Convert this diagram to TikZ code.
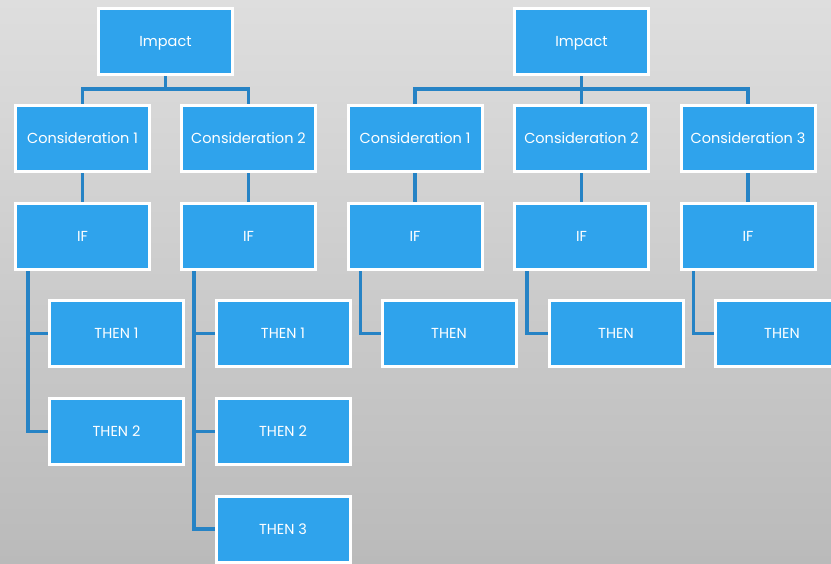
\documentclass[tikz,border=0pt]{standalone}
\usepackage{fontspec}
\setmainfont{Poppins}
\definecolor{boxblue}{RGB}{47,163,236}
\definecolor{linkblue}{RGB}{38,131,197}
\definecolor{bgtop}{RGB}{222,222,222}
\definecolor{bgbottom}{RGB}{186,186,186}
\tikzset{
    box/.style={
        draw=white,
        line width=3pt,
        fill=boxblue,
        text=white,
        minimum width=134pt,
        minimum height=66pt,
        inner sep=0pt,
        text height=10pt,
        text depth=0pt,
        font=\fontsize{14.5}{17}\selectfont,
    },
    link/.style={
        draw=linkblue,
        line width=3.5pt,
    },
}
\begin{document}
\begin{tikzpicture}[x=1pt,y=-1pt]
    \useasboundingbox (0,0) rectangle (831,563);
    \clip (0,0) rectangle (831,563);
    \shade[top color=bgtop, bottom color=bgbottom] (0,0) rectangle (831,563);

    % left tree
    \node[box] (imp1) at (165.5,41.5) {Impact};
    \node[box] (c11) at (82.5,138.5) {Consideration 1};
    \node[box] (c12) at (248.5,138.5) {Consideration 2};
    \node[box] (if11) at (82.5,236.5) {IF};
    \node[box] (if12) at (248.5,236.5) {IF};
    \node[box] (then11a) at (116.5,333.5) {THEN 1};
    \node[box] (then11b) at (116.5,431.5) {THEN 2};
    \node[box] (then12a) at (283,333.5) {THEN 1};
    \node[box] (then12b) at (283,431.5) {THEN 2};
    \node[box] (then12c) at (283,529) {THEN 3};

    % right tree
    \node[box] (imp2) at (581.5,41.5) {Impact};
    \node[box] (c21) at (415,138.5) {Consideration 1};
    \node[box] (c22) at (581.5,138.5) {Consideration 2};
    \node[box] (c23) at (748,138.5) {Consideration 3};
    \node[box] (if21) at (415,236.5) {IF};
    \node[box] (if22) at (581.5,236.5) {IF};
    \node[box] (if23) at (748,236.5) {IF};
    \node[box] (then21) at (449,333.5) {THEN};
    \node[box] (then22) at (616,333.5) {THEN};
    \node[box] (then23) at (782,333.5) {THEN};

    % connectors
    \draw[link] (imp1.south) -- ++(0,13) -| (c11.north);
    \draw[link] (imp1.south) -- ++(0,13) -| (c12.north);
    \draw[link] (imp2.south) -- ++(0,13) -| (c21.north);
    \draw[link] (imp2.south) -- (c22.north);
    \draw[link] (imp2.south) -- ++(0,13) -| (c23.north);
    \foreach \n in {11,12,21,22,23}
        \draw[link] (c\n.south) -- (if\n.north);
    \draw[link] ([xshift=14pt]if11.south west) |- (then11a.west);
    \draw[link] ([xshift=14pt]if11.south west) |- (then11b.west);
    \draw[link] ([xshift=14pt]if12.south west) |- (then12a.west);
    \draw[link] ([xshift=14pt]if12.south west) |- (then12b.west);
    \draw[link] ([xshift=14pt]if12.south west) |- (then12c.west);
    \draw[link] ([xshift=14pt]if21.south west) |- (then21.west);
    \draw[link] ([xshift=14pt]if22.south west) |- (then22.west);
    \draw[link] ([xshift=14pt]if23.south west) |- (then23.west);
\end{tikzpicture}
\end{document}
